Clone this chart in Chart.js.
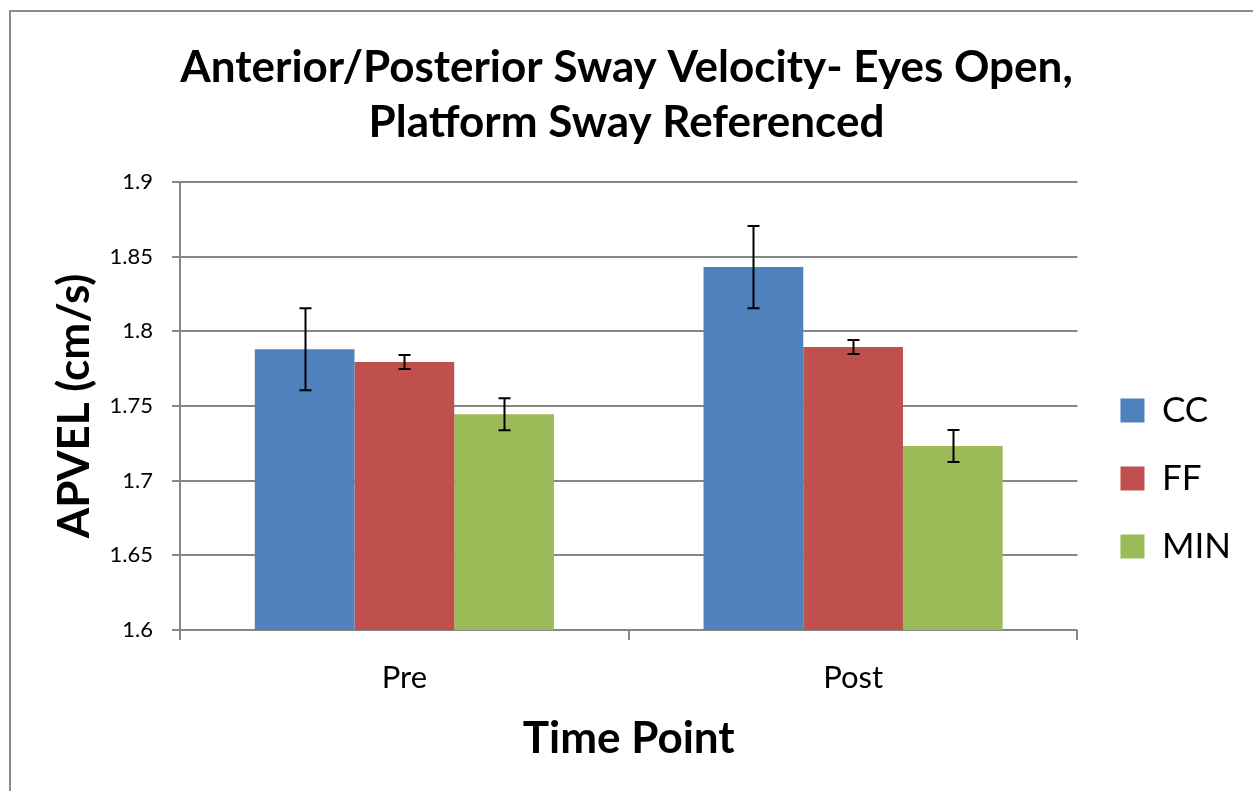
<!DOCTYPE html>
<html>
<head>
<meta charset="utf-8">
<script src="https://cdn.jsdelivr.net/npm/chart.js@4/dist/chart.umd.min.js"></script>
<style>
  html, body { margin: 0; padding: 0; background: #fff; }
  canvas { display: block; }
</style>
</head>
<body>
<canvas id="myChart" width="1253" height="791"></canvas>
<script>
// data
const timePoints = ['Pre', 'Post'];
const groupNames = ['CC', 'FF', 'MIN'];
const ccMeans = [1.788, 1.843];
const ffMeans = [1.7795, 1.7895];
const minMeans = [1.7445, 1.7232];
const ccErr = [0.0275, 0.0275];
const ffErr = [0.0047, 0.0047];
const minErr = [0.0107, 0.0107];
const yTicks = [1.6, 1.65, 1.7, 1.75, 1.8, 1.85, 1.9];

const FONT = 'Lato, "Open Sans", sans-serif';
const gridColor = '#868686';

// error bars drawn through the chart's own scales
const errorBars = {
    id: 'errorBars',
    afterDatasetsDraw(chart) {
        const ctx = chart.ctx;
        const y = chart.scales.y;
        ctx.save();
        ctx.strokeStyle = '#000';
        ctx.lineWidth = 2;
        chart.data.datasets.forEach((ds, i) => {
            const meta = chart.getDatasetMeta(i);
            meta.data.forEach((bar, j) => {
                const v = ds.data[j];
                const e = ds.errors[j];
                const top = y.getPixelForValue(v + e);
                const bot = y.getPixelForValue(v - e);
                const x = Math.round(bar.x) + 0.5;
                ctx.beginPath();
                ctx.moveTo(x, top);
                ctx.lineTo(x, bot);
                ctx.moveTo(x - 6, top);
                ctx.lineTo(x + 6, top);
                ctx.moveTo(x - 6, bot);
                ctx.lineTo(x + 6, bot);
                ctx.stroke();
            });
        });
        ctx.restore();
    }
};

// grey frame of the chart object (only left and top edges are in view)
const frame = {
    id: 'frame',
    afterDraw(chart) {
        const ctx = chart.ctx;
        ctx.save();
        ctx.strokeStyle = '#8c8c8c';
        ctx.lineWidth = 2;
        ctx.beginPath();
        ctx.moveTo(10, 791);
        ctx.lineTo(10, 11);
        ctx.lineTo(1253, 11);
        ctx.stroke();
        ctx.restore();
    }
};

new Chart(document.getElementById('myChart'), {
    type: 'bar',
    data: {
        labels: timePoints,
        datasets: [
            { label: groupNames[0], data: ccMeans, errors: ccErr, backgroundColor: '#4F81BD' },
            { label: groupNames[1], data: ffMeans, errors: ffErr, backgroundColor: '#C0504D' },
            { label: groupNames[2], data: minMeans, errors: minErr, backgroundColor: '#9BBB59' }
        ]
    },
    options: {
        responsive: false,
        animation: false,
        layout: { padding: { left: 12, top: 0, right: 12, bottom: 10 } },
        datasets: {
            bar: { categoryPercentage: 3 / 4.5, barPercentage: 1 }
        },
        scales: {
            x: {
                grid: { drawOnChartArea: false, drawTicks: true, tickLength: 10, color: gridColor, lineWidth: 2 },
                border: { display: false },
                ticks: { color: '#000', font: { family: FONT, size: 31 }, padding: 19 },
                title: { display: true, text: 'Time Point', color: '#000', font: { family: FONT, size: 44, weight: 'bold' }, padding: { top: 0, bottom: 16 } },
                afterFit(scale) { scale.height = 151; }
            },
            y: {
                min: 1.6,
                max: 1.9,
                afterBuildTicks(scale) { scale.ticks = yTicks.map(v => ({ value: v })); },
                grid: { color: gridColor, lineWidth: 2, tickLength: 8 },
                border: { color: gridColor, width: 2 },
                ticks: { color: '#000', font: { family: FONT, size: 22 }, padding: 19, callback: v => String(+v.toFixed(2)) },
                title: { display: true, text: 'APVEL (cm/s)', color: '#000', font: { family: FONT, size: 44, weight: 'bold' }, padding: { top: 36, bottom: 0 } },
                afterFit(scale) { scale.width = 168; }
            },
            gap: {
                position: 'right',
                display: true,
                grid: { display: false },
                border: { display: false },
                ticks: { display: false },
                afterFit(scale) { scale.width = 10; }
            }
        },
        plugins: {
            title: {
                display: true,
                text: ['Anterior/Posterior Sway Velocity- Eyes Open,', 'Platform Sway Referenced'],
                color: '#000',
                font: { family: FONT, size: 44, weight: 'bold', lineHeight: 1.25 },
                padding: { top: 40, bottom: 32 }
            },
            legend: {
                position: 'right',
                title: { display: true, text: ' ', font: { size: 10 }, padding: { top: 164, bottom: 0 } },
                labels: { boxWidth: 24, boxHeight: 24, padding: 33, color: '#000', font: { family: FONT, size: 35 } }
            },
            tooltip: { enabled: false }
        }
    },
    plugins: [errorBars, frame]
});
</script>
</body>
</html>
